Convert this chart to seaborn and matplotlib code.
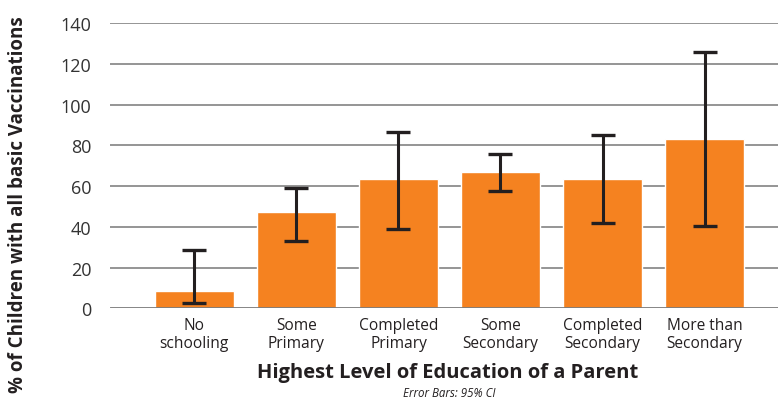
import numpy as np
import pandas as pd
import matplotlib
matplotlib.use('Agg')
import matplotlib.pyplot as plt
import seaborn as sns

# ── Data ──────────────────────────────────────────────────────────────────
categories = ['No\nschooling', 'Some\nPrimary', 'Completed\nPrimary',
              'Some\nSecondary', 'Completed\nSecondary', 'More than\nSecondary']
pct_vacc = [8.5, 47.1, 63.4, 66.9, 63.3, 83.1]
ci_low   = [2.6, 33.2, 38.8, 57.6, 41.9, 40.4]
ci_high  = [28.6, 59.2, 86.5, 75.9, 85.0, 125.8]
y_ticks  = [0, 20, 40, 60, 80, 100, 120, 140]

df = pd.DataFrame({'edu': categories, 'pct': pct_vacc})

# ── Plot ──────────────────────────────────────────────────────────────────
sns.set_style('white')
plt.rcParams['font.family'] = ['Open Sans', 'DejaVu Sans']

fig = plt.figure(figsize=(7.78, 4.06), dpi=100)
ax = fig.add_axes([0.141, 0.238, 0.859, 0.703])

for y in y_ticks[1:]:
    ax.axhline(y, color='#8c8c8c', lw=1.3, zorder=0)

sns.barplot(data=df, x='edu', y='pct', color='#F58220', saturation=1,
            width=0.78, ax=ax, zorder=2)

lo = np.array(pct_vacc) - np.array(ci_low)
hi = np.array(ci_high) - np.array(pct_vacc)
ax.errorbar(np.arange(len(categories)), pct_vacc, yerr=[lo, hi], fmt='none',
            ecolor='#231F20', elinewidth=2.2, capsize=8.5, capthick=2.4,
            zorder=3)

ax.axhline(0, color='#7a7a7a', lw=2, zorder=4)
ax.set_ylim(0, 140)
ax.set_xlim(-0.83, 5.72)
ax.set_yticks(y_ticks)
ax.tick_params(axis='y', labelsize=13, colors='#333333', length=0, pad=13)
ax.tick_params(axis='x', labelsize=11.2, colors='#231F20', length=0, pad=6)
for lab in ax.get_xticklabels():
    lab.set_linespacing(1.22)
sns.despine(ax=ax, left=True, bottom=True, right=True, top=True)
ax.set_xlabel('')
ax.set_ylabel('')

fig.text(0.575, 0.081, 'Highest Level of Education of a Parent',
         fontsize=14.5, fontweight='bold', color='#231F20',
         ha='center', va='center')
fig.text(0.023, 0.495, '% of Children with all basic Vaccinations',
         fontsize=13.5, fontweight='bold', color='#231F20', rotation=90,
         ha='center', va='center')
fig.text(0.578, 0.030, 'Error Bars: 95% CI', fontsize=8.3, style='italic',
         color='#231F20', ha='center', va='center')

fig.savefig('out.png', dpi=100, facecolor='white')
plt.close()
